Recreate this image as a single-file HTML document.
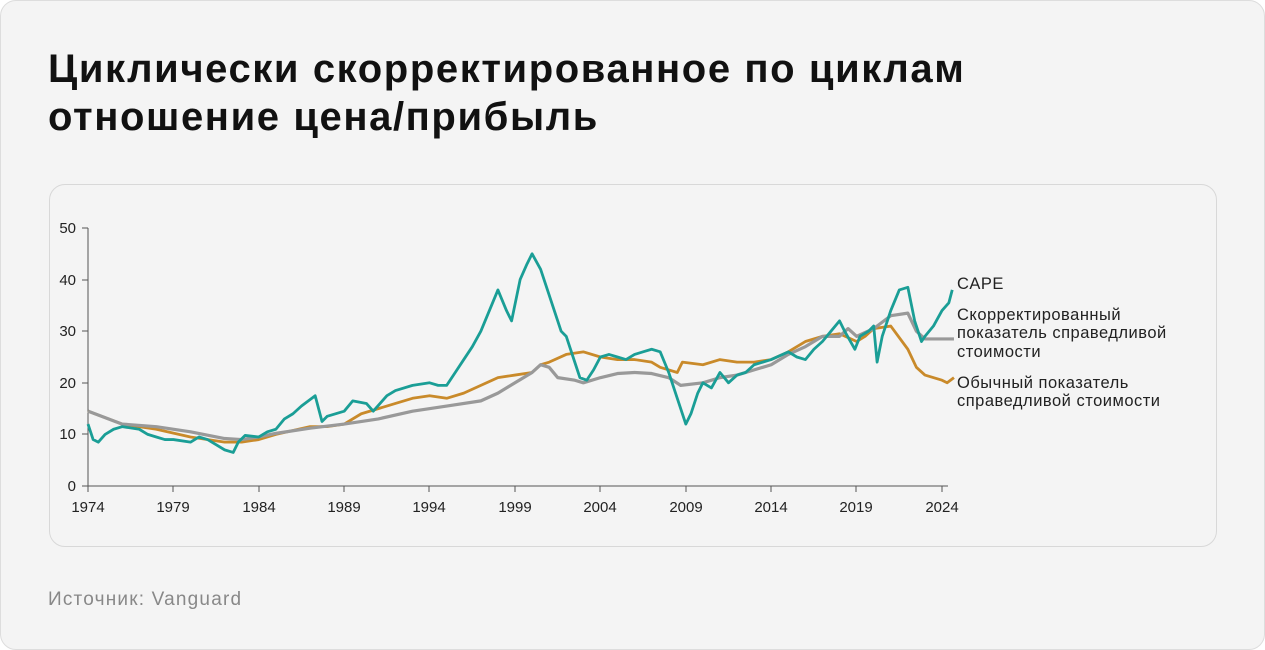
<!DOCTYPE html>
<html><head><meta charset="utf-8"><style>
html,body{margin:0;padding:0;}
body{width:1265px;height:650px;background:#fff;font-family:"Liberation Sans",sans-serif;position:relative;overflow:hidden;}
.page{position:absolute;left:0;top:0;width:1263px;height:648px;border:1px solid #ddd;border-radius:16px;background:#f4f4f4;}
h1{position:absolute;left:48px;top:45px;margin:0;font-size:40px;line-height:48px;font-weight:bold;color:#111;letter-spacing:1.6px;}
.card{position:absolute;left:49px;top:184px;width:1166px;height:361px;border:1px solid #d8d8d8;border-radius:16px;}
.src{position:absolute;left:48px;top:589px;font-size:19px;color:#888;letter-spacing:1.2px;}
svg{position:absolute;left:0;top:0;}
</style></head><body>
<div class="page"></div>
<h1>Циклически скорректированное по циклам<br>отношение цена/прибыль</h1>
<div class="card"></div>
<div class="src">Источник: Vanguard</div>
<svg width="1265" height="650" font-family="Liberation Sans, sans-serif">
<g stroke="#555" stroke-width="1">
<line x1="88" y1="228" x2="88" y2="486"/>
<line x1="88" y1="486" x2="948" y2="486"/>
<line x1="82" y1="228" x2="88" y2="228"/><line x1="82" y1="280" x2="88" y2="280"/><line x1="82" y1="331" x2="88" y2="331"/><line x1="82" y1="383" x2="88" y2="383"/><line x1="82" y1="434" x2="88" y2="434"/><line x1="82" y1="486" x2="88" y2="486"/>
<line x1="88" y1="486" x2="88" y2="492"/><line x1="173" y1="486" x2="173" y2="492"/><line x1="259" y1="486" x2="259" y2="492"/><line x1="344" y1="486" x2="344" y2="492"/><line x1="429" y1="486" x2="429" y2="492"/><line x1="515" y1="486" x2="515" y2="492"/><line x1="600" y1="486" x2="600" y2="492"/><line x1="686" y1="486" x2="686" y2="492"/><line x1="771" y1="486" x2="771" y2="492"/><line x1="856" y1="486" x2="856" y2="492"/><line x1="942" y1="486" x2="942" y2="492"/>
</g>
<g font-size="15" fill="#222" text-anchor="end">
<text x="76" y="233">50</text><text x="76" y="285">40</text><text x="76" y="336">30</text><text x="76" y="388">20</text><text x="76" y="439">10</text><text x="76" y="491">0</text>
</g>
<g font-size="15" fill="#222" text-anchor="middle">
<text x="88" y="512">1974</text><text x="173" y="512">1979</text><text x="259" y="512">1984</text><text x="344" y="512">1989</text><text x="429" y="512">1994</text><text x="515" y="512">1999</text><text x="600" y="512">2004</text><text x="686" y="512">2009</text><text x="771" y="512">2014</text><text x="856" y="512">2019</text><text x="942" y="512">2024</text>
</g>
<g transform="translate(88,486) scale(17.08,-5.16) translate(-1974,0)" fill="none" stroke-linejoin="round">
<polyline vector-effect="non-scaling-stroke" stroke="#c98a2a" stroke-width="2.8" points="1974,14.5 1976,12 1978,11 1980,9.5 1982,8.5 1983,8.5 1984,9 1985,10 1987,11.5 1988,11.5 1989,12 1990,14 1991,15 1992,16 1993,17 1994,17.5 1995,17 1996,18 1997,19.5 1998,21 1999,21.5 2000,22 2000.5,23.5 2001,24 2002,25.5 2003,26 2004,25 2005,24.5 2006,24.5 2007,24 2007.5,23 2008.5,22 2008.8,24 2010,23.5 2011,24.5 2012,24 2013,24 2014,24.5 2015,26 2016,28 2017,29 2018,29.5 2019,28 2019.5,29 2020,30.5 2021,31 2022,26.5 2022.5,23 2023,21.5 2024,20.5 2024.3,20 2024.7,21"/>
<polyline vector-effect="non-scaling-stroke" stroke="#999" stroke-width="3.2" points="1974,14.5 1976,12 1978,11.5 1980,10.5 1982,9.2 1983,9 1984,9.5 1985,10.2 1987,11.2 1989,12 1991,13 1993,14.5 1995,15.5 1997,16.5 1998,18 1999,20 2000,22 2000.5,23.5 2001,23 2001.5,21 2002.5,20.5 2003,20 2004,21 2005,21.8 2006,22 2007,21.8 2008,21 2008.7,19.5 2010,20 2011,21 2012,21.5 2013,22.5 2014,23.5 2015,25.5 2016,27 2017,29 2018,29 2018.5,30.5 2019,29 2020,30.5 2021,33 2022,33.5 2022.5,30 2023,28.5 2024,28.5 2024.7,28.5"/>
<polyline vector-effect="non-scaling-stroke" stroke="#1a9e96" stroke-width="2.8" points="1974,12 1974.3,9 1974.6,8.5 1975,10 1975.5,11 1976,11.5 1977,11 1977.5,10 1978,9.5 1978.5,9 1979,9 1980,8.5 1980.5,9.5 1981,9 1981.5,8 1982,7 1982.5,6.5 1982.8,8.5 1983.2,9.8 1984,9.5 1984.5,10.5 1985,11 1985.5,13 1986,14 1986.5,15.5 1987.3,17.5 1987.7,12.5 1988,13.5 1989,14.5 1989.5,16.5 1990.3,16 1990.7,14.5 1991.5,17.5 1992,18.5 1993,19.5 1994,20 1994.5,19.5 1995,19.5 1995.5,22 1996,24.5 1996.5,27 1997,30 1997.5,34 1998,38 1998.5,34 1998.8,32 1999.3,40 1999.7,43 2000,45 2000.5,42 2001,37 2001.3,34 2001.7,30 2002,29 2002.4,25 2002.8,21 2003.2,20.5 2003.6,22.5 2004,25 2004.5,25.5 2005,25 2005.5,24.5 2006,25.5 2006.5,26 2007,26.5 2007.5,26 2008,22 2008.5,17 2009,12 2009.3,14 2009.7,18 2010,20 2010.5,19 2011,22 2011.5,20 2012,21.5 2012.5,22 2013,23.5 2014,24.5 2015,26 2015.5,25 2016,24.5 2016.5,26.5 2017,28 2017.5,30 2018,32 2018.3,30 2018.9,26.5 2019.2,29 2019.7,30 2020,31 2020.2,24 2020.5,29 2021,34 2021.5,38 2022,38.5 2022.4,32 2022.8,28 2023,29 2023.5,31 2024,34 2024.4,35.5 2024.6,38"/>
</g>
<g font-size="16.5" fill="#222" letter-spacing="0.5">
<text x="957" y="289">CAPE</text>
<text x="957" y="320">Скорректированный</text>
<text x="957" y="338">показатель справедливой</text>
<text x="957" y="357">стоимости</text>
<text x="957" y="388">Обычный показатель</text>
<text x="957" y="406">справедливой стоимости</text>
</g>
</svg>
</body></html>
